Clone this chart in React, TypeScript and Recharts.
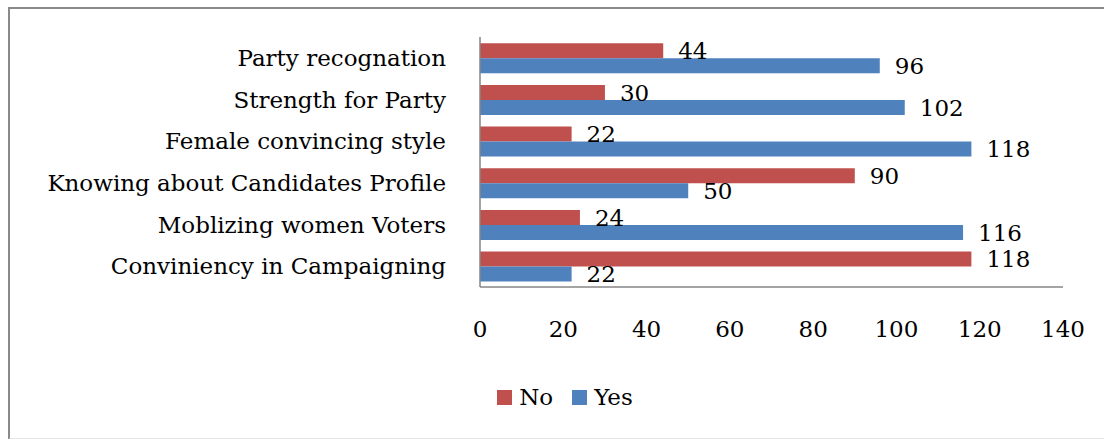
import React from "react";
import { BarChart, Bar, XAxis, YAxis, Legend, LabelList } from "recharts";

const categories = [
  "Party recognation",
  "Strength for Party",
  "Female convincing style",
  "Knowing about Candidates Profile",
  "Moblizing women Voters",
  "Conviniency in Campaigning",
];
const noValues = [44, 30, 22, 90, 24, 118];
const yesValues = [96, 102, 118, 50, 116, 22];
const xTicks = [0, 20, 40, 60, 80, 100, 120, 140];

const RED = "#C0504D";
const BLUE = "#4F81BD";
const FONT = "'DejaVu Serif', serif";
const FS = 23;

const data = categories.map((name, i) => ({ name, No: noValues[i], Yes: yesValues[i] }));

// legend drawn as plain html so spacing matches the original
const renderLegend = (props: any) => {
  const items = props.payload || [];
  return (
    <div style={{ display: "flex", justifyContent: "center", alignItems: "center", fontFamily: FONT, fontSize: FS, color: "#000" }}>
      {items.map((p: any, i: number) => (
        <div key={i} style={{ display: "flex", alignItems: "center", marginRight: i === items.length - 1 ? 0 : 19 }}>
          <span style={{ display: "inline-block", width: 15, height: 15, background: p.color, marginRight: 7 }} />
          <span>{p.value}</span>
        </div>
      ))}
    </div>
  );
};

export default function App() {
  return (
    <div style={{ position: "absolute", left: 0, top: 0, width: 1104, height: 439, background: "#fff", overflow: "hidden" }}>
      <div
        style={{
          position: "absolute",
          left: 8,
          top: 7,
          width: 1120,
          height: 429,
          borderTop: "2px solid #8a8a8a",
          borderLeft: "2px solid #8a8a8a",
          borderBottom: "2px solid #e6e6e6",
        }}
      />
      <div style={{ position: "absolute", left: 0, top: 0 }}>
        <BarChart
          width={1104}
          height={439}
          data={data}
          layout="vertical"
          margin={{ top: 37, right: 41, left: 0, bottom: 92 }}
          barCategoryGap="15%"
          barGap={0}
          style={{ fontFamily: FONT }}
        >
          <XAxis
            type="number"
            domain={[0, 140]}
            ticks={xTicks}
            tickLine={false}
            tickSize={0}
            tickMargin={34}
            height={60}
            axisLine={{ stroke: "#868686", strokeWidth: 1.5 }}
            tick={{ fill: "#000", fontSize: FS, fontFamily: FONT }}
            interval={0}
          />
          <YAxis
            type="category"
            dataKey="name"
            width={480}
            tickLine={false}
            tickSize={0}
            tickMargin={34}
            axisLine={{ stroke: "#868686", strokeWidth: 1.5 }}
            tick={{ fill: "#000", fontSize: FS, fontFamily: FONT }}
            interval={0}
          />
          <Legend
            layout="horizontal"
            verticalAlign="middle"
            align="center"
            content={renderLegend}
            wrapperStyle={{ top: 384, left: 0, width: 1130 }}
          />
          <Bar dataKey="No" fill={RED} isAnimationActive={false}>
            <LabelList dataKey="No" position="right" offset={15} fill="#000" fontSize={FS} fontFamily={FONT} />
          </Bar>
          <Bar dataKey="Yes" fill={BLUE} isAnimationActive={false}>
            <LabelList dataKey="Yes" position="right" offset={15} fill="#000" fontSize={FS} fontFamily={FONT} />
          </Bar>
        </BarChart>
      </div>
    </div>
  );
}
